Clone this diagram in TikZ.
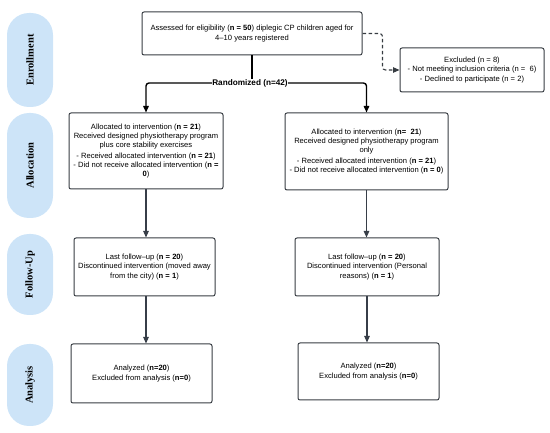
\documentclass[tikz,border=0pt]{standalone}
\usepackage{fontspec}
\setmainfont{Liberation Sans}
\newfontfamily\pillfont{Liberation Serif}
\usetikzlibrary{arrows.meta}
\definecolor{pillc}{RGB}{205,228,248}
\definecolor{boxc}{RGB}{55,60,66}
\definecolor{arrc}{RGB}{55,62,72}
\tikzset{
  pill/.style={fill=pillc, rounded corners=22pt, minimum height=46pt, inner sep=0pt, rotate=90,
    font=\pillfont\bfseries\fontsize{10.5}{12}\selectfont},
  fbox/.style={draw=boxc, line width=1pt, rounded corners=2pt, inner sep=0pt, align=center,
    font=\fontsize{7.6}{9.3}\selectfont},
  conn/.style={draw=arrc, line width=1.2pt, -{Triangle[length=6.5pt,width=5.5pt]}},
  rconn/.style={draw=black, line width=1.4pt, rounded corners=3pt, -{Triangle[length=6.5pt,width=5.5pt]}},
  dconn/.style={draw=boxc, line width=1.1pt, dashed, dash pattern=on 3.5pt off 2.5pt, rounded corners=3pt, -{Triangle[length=6.5pt,width=5.5pt]}},
}
\begin{document}
\begin{tikzpicture}[x=1pt,y=-1pt]
\useasboundingbox (0,0) rectangle (550,433);
% side pills
\node[pill, minimum width=94pt] (p1) at (30,60) {Enrollment};
\node[pill, minimum width=105pt] (p2) at (30,165.5) {Allocation};
\node[pill, minimum width=81pt] (p3) at (30,274.5) {Follow-Up};
\node[pill, minimum width=82pt] (p4) at (30,385) {Analysis};
% boxes
\node[fbox, minimum width=220pt, minimum height=43pt] (assess) at (252,33.5)
  {Assessed for eligibility (\textbf{n = 50}) diplegic CP children aged for\\4--10 years registered};
\node[fbox, minimum width=144pt, minimum height=44pt] (excl) at (472,70)
  {Excluded (n = 8)\\- Not meeting inclusion criteria (n =\ \ 6)\\- Declined to participate (n = 2)};
\node[fbox, minimum width=154pt, minimum height=76pt] (al1) at (146,151)
  {Allocated to intervention (\textbf{n = 21})\\Received designed physiotherapy program\\plus core stability exercises\\[1pt]- Received allocated intervention (\textbf{n = 21})\\- Did not receive allocated intervention (\textbf{n =}\\\textbf{0})};
\node[fbox, minimum width=163pt, minimum height=77pt] (al2) at (366.5,151.5)
  {Allocated to intervention (\textbf{n=\ \ 21})\\Received designed physiotherapy program\\only\\[1pt]- Received allocated intervention (\textbf{n = 21})\\- Did not receive allocated intervention (\textbf{n = 0})};
\node[fbox, minimum width=141pt, minimum height=58pt] (fu1) at (144.5,267)
  {Last follow--up (\textbf{n = 20})\\Discontinued intervention (moved away\\from the city) (\textbf{n = 1})};
\node[fbox, minimum width=144pt, minimum height=58pt] (fu2) at (367,267)
  {Last follow--up (\textbf{n = 20})\\Discontinued intervention (Personal\\reasons) (\textbf{n = 1})};
\node[fbox, minimum width=141pt, minimum height=59pt] (an1) at (141.5,373.5)
  {Analyzed (\textbf{n=20})\\Excluded from analysis (\textbf{n=0})};
\node[fbox, minimum width=141pt, minimum height=57pt] (an2) at (368.5,371.5)
  {Analyzed (\textbf{n=20})\\Excluded from analysis (\textbf{n=0})};
% randomization
\coordinate (r) at (252,83);
\draw[black, line width=1.4pt] (assess.south) -- (r);
\draw[rconn] (r) -| (al1.north);
\draw[rconn] (r) -| (al2.north);
\node[fill=white, inner sep=0.5pt, font=\bfseries\fontsize{8.2}{9}\selectfont] (rl) at (250,83) {Randomized (n=42)};
% exclusion
\draw[dconn] (assess.east) -- ++(20,0) |- (excl.west);
% vertical flow
\draw[conn] (al1.south) -- (al1.south |- fu1.north);
\draw[conn] (al2.south) -- (al2.south |- fu2.north);
\draw[conn] (al1.south |- fu1.south) -- (al1.south |- an1.north);
\draw[conn] (fu2.south) -- (fu2.south |- an2.north);
\end{tikzpicture}
\end{document}
